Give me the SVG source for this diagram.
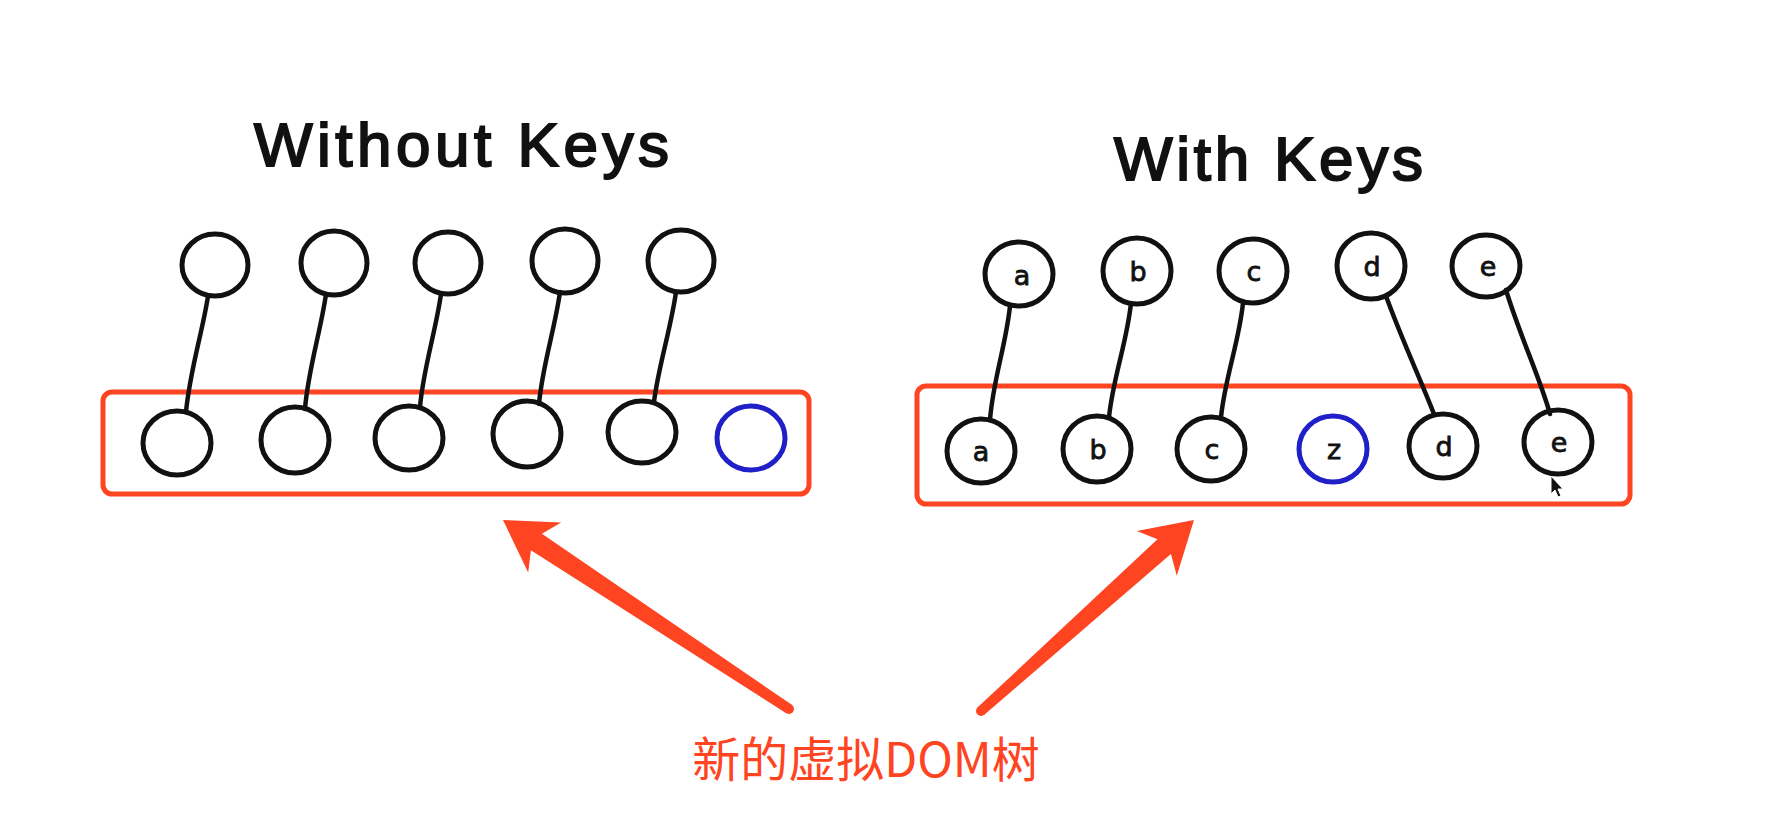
<svg xmlns="http://www.w3.org/2000/svg" width="1792" height="838" viewBox="0 0 1792 838">
<style>
.node{fill:none;stroke:#111;stroke-width:5}
.new{fill:none;stroke:#2020c8;stroke-width:5}
.lbl{font-family:"DejaVu Sans",sans-serif;font-size:27px;fill:#111;stroke:#111;stroke-width:0.8;text-anchor:middle}
.conn{fill:none;stroke:#111;stroke-width:4.5;stroke-linecap:round}
.frame{fill:none;stroke:#ff4422;stroke-width:5}
.title{font-family:"Liberation Sans",sans-serif;font-size:62px;fill:#111;stroke:#111;stroke-width:2}
.red{fill:#ff4422}
</style>
<rect width="1792" height="838" fill="#fff"/>
<g id="titles">
<text class="title" x="254" y="166" textLength="415" lengthAdjust="spacing">Without Keys</text>
<text class="title" x="1114" y="180" textLength="309" lengthAdjust="spacing">With Keys</text>
</g>
<g id="frames">
<rect class="frame" x="103" y="392" width="706" height="102" rx="9"/>
<rect class="frame" x="917" y="386" width="713" height="118" rx="9"/>
</g>
<g id="connectors">
<path class="conn" d="M208,296 C203,330 190,370 186,412"/>
<path class="conn" d="M326,294 C321,330 308,370 305,409"/>
<path class="conn" d="M441,294 C436,330 423,370 420,407"/>
<path class="conn" d="M560,292 C555,328 542,368 539,404"/>
<path class="conn" d="M676,292 C671,328 658,368 654,402"/>
<path class="conn" d="M1010,306 C1006,345 993,380 990,420"/>
<path class="conn" d="M1131,303 C1127,342 1113,378 1109,417"/>
<path class="conn" d="M1243,303 C1239,342 1225,378 1221,417"/>
<path class="conn" d="M1386,296 C1402,340 1420,378 1434,414"/>
<path class="conn" d="M1506,290 C1520,336 1540,378 1550,414"/>
</g>
<g id="left-old">
<ellipse class="node" cx="215" cy="265" rx="33" ry="31"/>
<ellipse class="node" cx="334" cy="263" rx="33" ry="32"/>
<ellipse class="node" cx="448" cy="263" rx="33" ry="31"/>
<ellipse class="node" cx="565" cy="261" rx="33" ry="32"/>
<ellipse class="node" cx="681" cy="261" rx="33" ry="31"/>
</g>
<g id="left-new">
<ellipse class="node" cx="177" cy="443" rx="34" ry="32"/>
<ellipse class="node" cx="295" cy="440" rx="34" ry="33"/>
<ellipse class="node" cx="409" cy="438" rx="34" ry="32"/>
<ellipse class="node" cx="527" cy="434" rx="34" ry="33"/>
<ellipse class="node" cx="642" cy="432" rx="34" ry="31"/>
<ellipse class="new" cx="751" cy="438" rx="34" ry="32"/>
</g>
<g id="right-old">
<ellipse class="node" cx="1019" cy="274" rx="34" ry="32"/><text class="lbl" x="1022" y="285">a</text>
<ellipse class="node" cx="1137" cy="271" rx="34" ry="33"/><text class="lbl" x="1138" y="281">b</text>
<ellipse class="node" cx="1253" cy="271" rx="34" ry="32"/><text class="lbl" x="1254" y="281">c</text>
<ellipse class="node" cx="1371" cy="266" rx="34" ry="33"/><text class="lbl" x="1372" y="276">d</text>
<ellipse class="node" cx="1486" cy="266" rx="34" ry="31"/><text class="lbl" x="1488" y="276">e</text>
</g>
<g id="right-new">
<ellipse class="node" cx="981" cy="451" rx="34" ry="32"/><text class="lbl" x="981" y="461">a</text>
<ellipse class="node" cx="1097" cy="449" rx="34" ry="33"/><text class="lbl" x="1098" y="459">b</text>
<ellipse class="node" cx="1211" cy="449" rx="34" ry="32"/><text class="lbl" x="1212" y="459">c</text>
<ellipse class="new" cx="1333" cy="449" rx="34" ry="33"/><text class="lbl" x="1334" y="459">z</text>
<ellipse class="node" cx="1443" cy="446" rx="34" ry="32"/><text class="lbl" x="1444" y="456">d</text>
<ellipse class="node" cx="1558" cy="442" rx="34" ry="32"/><text class="lbl" x="1559" y="452">e</text>
<path d="M1551,476 L1551,494 L1555,490 L1558,497 L1561,496 L1558,489 L1563,489 Z" fill="#111" stroke="#fff" stroke-width="1"/>
</g>
<g id="arrows">
<polygon class="red" points="503,520 561.2,522.6 541.9,533.7 791.8,704.8 786.2,713.2 530.9,550.3 528.2,572.6"/>
<circle class="red" cx="789" cy="709" r="5"/>
<polygon class="red" points="1194,520 1176.8,575.7 1170.9,554.1 984.3,714.7 977.7,707.3 1157.5,539.3 1136.8,531.1"/>
<circle class="red" cx="981" cy="711" r="5"/>
</g>
<g id="caption">
<text x="866" y="777" text-anchor="middle" font-family="'Noto Sans CJK SC',sans-serif" font-size="48" fill="#ff4422">新的虚拟DOM树</text>
</g>
</svg>
